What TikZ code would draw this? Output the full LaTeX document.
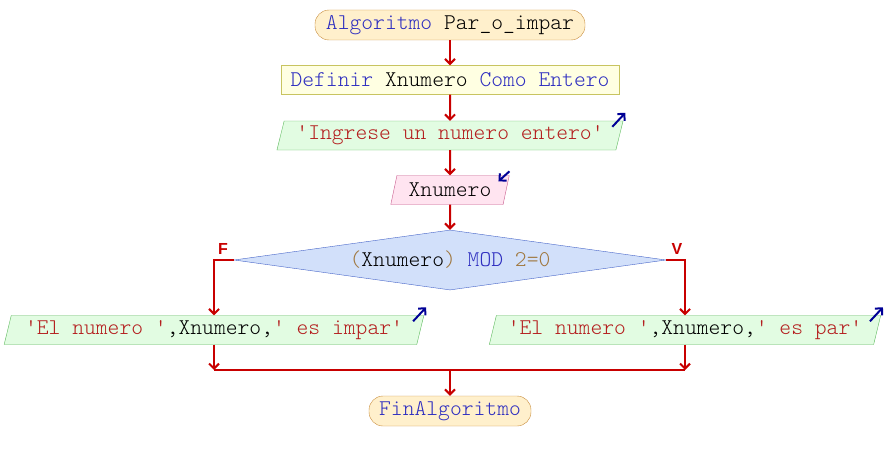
\documentclass[tikz,border=0pt]{standalone}
\usepackage{fontspec}
\setmonofont{Latin Modern Mono Light}
\setsansfont{Liberation Sans}
\usetikzlibrary{shapes.geometric,arrows.meta}

\definecolor{kwcol}{HTML}{2E2EC0}
\definecolor{strcol}{HTML}{B41E1E}
\definecolor{numcol}{HTML}{A07840}
\definecolor{linkred}{HTML}{C80000}
\definecolor{cornerblue}{HTML}{000096}
\definecolor{termfill}{HTML}{FFF0CC}
\definecolor{termdraw}{HTML}{C88C3C}
\definecolor{declfill}{HTML}{FFFFE2}
\definecolor{decldraw}{HTML}{C8C460}
\definecolor{outfill}{HTML}{E2FCE2}
\definecolor{outdraw}{HTML}{5CB85C}
\definecolor{infill}{HTML}{FFE4F0}
\definecolor{indraw}{HTML}{C85A8C}
\definecolor{condfill}{HTML}{D2E0FA}
\definecolor{conddraw}{HTML}{4664C8}

\newcommand{\kw}[1]{\textcolor{kwcol}{#1}}
\newcommand{\strg}[1]{\textcolor{strcol}{#1}}
\newcommand{\numc}[1]{\textcolor{numcol}{#1}}

\begin{document}
\begin{tikzpicture}[x=1pt, y=-1pt,
    font=\ttfamily\fontsize{22.5}{24}\selectfont,
    term/.style={draw=termdraw, fill=termfill, rounded corners=14pt,
        minimum height=30pt, inner sep=0pt},
    decl/.style={draw=decldraw, fill=declfill, minimum height=29pt, inner sep=0pt},
    inout/.style={trapezium, trapezium left angle=71, trapezium right angle=109,
        trapezium stretches=true, minimum height=29pt, inner sep=0pt},
    salida/.style={inout, draw=outdraw, fill=outfill},
    entrada/.style={inout, draw=indraw, fill=infill},
    cond/.style={diamond, draw=conddraw, fill=condfill, minimum width=432pt,
        minimum height=60pt, inner sep=0pt, aspect=7.2},
    flow/.style={draw=linkred, line width=2pt, -{Straight Barb[length=5pt,width=10pt]}},
    link/.style={draw=linkred, line width=2pt},
    corner/.style={draw=cornerblue, line width=2pt, -{Straight Barb[length=5pt,width=10pt]}},
    lbl/.style={font=\sffamily\bfseries\fontsize{16}{18}\selectfont, text=linkred, inner sep=0pt}]
    \useasboundingbox (0,0) rectangle (888,460);

    \node[term, minimum width=270pt] (ini) at (450,25) {\kw{Algoritmo} Par\_o\_impar};
    \node[decl, minimum width=338pt] (def) at (450,80) {\kw{Definir} Xnumero \kw{Como} \kw{Entero}};
    \node[salida, minimum width=347pt] (msg) at (450,135.5) {\strg{'Ingrese un numero entero'}};
    \node[entrada, minimum width=119pt] (leer) at (450,190) {Xnumero};
    \node[cond] (esPar) at (450,260) {\numc{(}Xnumero\numc{)} \kw{MOD} \numc{2=0}};
    \node[salida, minimum width=421pt] (impar) at (214,330)
        {\strg{'El numero '},Xnumero,\strg{' es impar'}};
    \node[salida, minimum width=392pt] (par) at (685,330)
        {\strg{'El numero '},Xnumero,\strg{' es par'}};
    \node[term, minimum width=162pt] (fin) at (450,411) {\kw{FinAlgoritmo}};

    \node[lbl] (lblF) at (223,249) {F};
    \node[lbl] (lblV) at (677,249) {V};

    \draw[flow] (ini) -- (def);
    \draw[flow] (def) -- (msg);
    \draw[flow] (msg) -- (leer);
    \draw[flow] (leer) -- (esPar);
    \draw[flow] (esPar.west) -| (impar.north);
    \draw[flow] (esPar.east) -| (par.north);

    % ramas que se juntan
    \coordinate (join) at (450,370);
    \draw[flow] (impar.south) -- (impar.south |- join);
    \draw[flow] (par.south) -- (par.south |- join);
    \draw[link] (impar.south |- join) -- (par.south |- join);
    \draw[flow] (join) -- (fin);

    \foreach \n in {msg,impar,par}
        \draw[corner] ([shift={(-11,6)}]\n.top right corner) -- ([shift={(2,-8)}]\n.top right corner);
    \draw[corner] ([shift={(0,-4)}]leer.top right corner) -- ([shift={(-11,6)}]leer.top right corner);
\end{tikzpicture}
\end{document}
